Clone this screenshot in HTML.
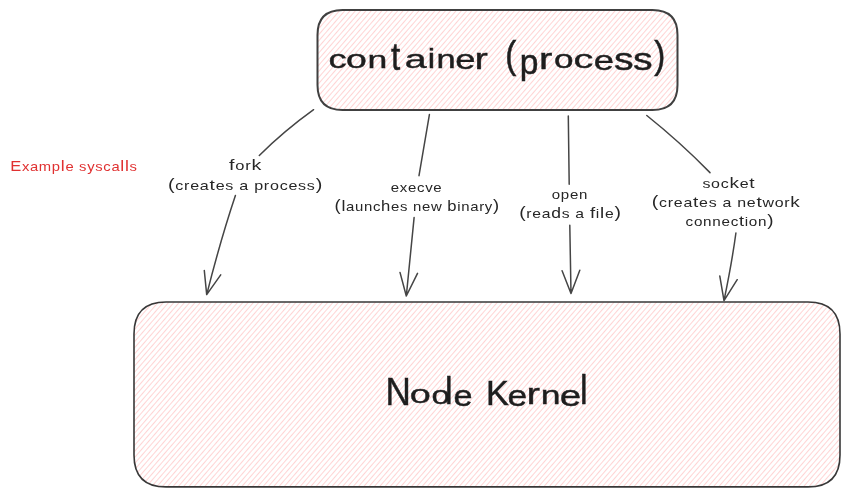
<!DOCTYPE html>
<html><head><meta charset="utf-8">
<style>
html,body{margin:0;padding:0;background:#fff;width:850px;height:497px;overflow:hidden}
svg{display:block;will-change:transform}
text{font-family:"Liberation Sans",sans-serif}
</style></head>
<body>
<svg width="850" height="497" viewBox="0 0 850 497">

<defs>
<pattern id="h1" patternUnits="userSpaceOnUse" width="4" height="4" patternTransform="translate(-1.6,0) rotate(-49)">
<rect x="0" y="0" width="4" height="1" fill="#ffc9c9" fill-opacity="0.8"/>
</pattern>
<pattern id="h2" patternUnits="userSpaceOnUse" width="4" height="4" patternTransform="translate(1.6,0) rotate(-49)">
<rect x="0" y="0" width="4" height="1" fill="#ffc9c9" fill-opacity="0.8"/>
</pattern>
</defs>
<path d="M342.5,9.9 L652.5,9.9 Q677.5,9.9 677.5,34.9 L677.5,85.0 Q677.5,110.0 652.5,110.0 L342.5,110.0 Q317.5,110.0 317.5,85.0 L317.5,34.9 Q317.5,9.9 342.5,9.9 Z" fill="url(#h1)" stroke="#404040" stroke-width="2"/>
<path d="M166,302 L808,302 Q840,302 840,334 L840,454.9 Q840,486.9 808,486.9 L166,486.9 Q134,486.9 134,454.9 L134,334 Q134,302 166,302 Z" fill="url(#h2)" stroke="#383838" stroke-width="1.6"/>
<g fill="none" stroke="#454545" stroke-width="1.5" stroke-linecap="round" stroke-linejoin="round">
<path d="M313.6,109.7 Q284,131 259.3,155.5"/>
<path d="M235.4,195.5 Q220.5,240 206.7,294.6 M204.3,270.5 L206.7,294.6 L220.7,274.9"/>
<path d="M429.4,114.6 L419,175.7"/>
<path d="M414.1,217.6 L406.3,296 M400,272.4 L406.3,296 L417.5,273.3"/>
<path d="M568.3,116.1 L569.2,184.3"/>
<path d="M569.8,225.2 L571,293.4 M562.1,270.8 L571,293.4 L579.8,270.3"/>
<path d="M646.8,115.5 Q680,142 710,172.6"/>
<path d="M735.9,233 Q732,262 724,300.6 M719.8,276.1 L724,300.6 L737.2,279.7"/>
</g>

<g id="title"><text font-size="100" fill="#1e1e1e" stroke="#1e1e1e" stroke-width="0.5" vector-effect="non-scaling-stroke" transform="matrix(0.3618 0 0 0.2665 328.46 68.44)">c</text>
<text font-size="100" fill="#1e1e1e" stroke="#1e1e1e" stroke-width="0.5" vector-effect="non-scaling-stroke" transform="matrix(0.3749 0 0 0.2574 346.03 68.45)">o</text>
<text font-size="100" fill="#1e1e1e" stroke="#1e1e1e" stroke-width="0.5" vector-effect="non-scaling-stroke" transform="matrix(0.3555 0 0 0.2435 367.44 68.20)">n</text>
<text font-size="100" fill="#1e1e1e" stroke="#1e1e1e" stroke-width="0.5" vector-effect="non-scaling-stroke" transform="matrix(0.3310 0 0 0.3913 390.97 70.39)">t</text>
<text font-size="100" fill="#1e1e1e" stroke="#1e1e1e" stroke-width="0.5" vector-effect="non-scaling-stroke" transform="matrix(0.3932 0 0 0.2665 404.83 68.44)">a</text>
<text font-size="100" fill="#1e1e1e" stroke="#1e1e1e" stroke-width="0.5" vector-effect="non-scaling-stroke" transform="matrix(0.3310 0 0 0.2774 427.78 68.20)">i</text>
<text font-size="100" fill="#1e1e1e" stroke="#1e1e1e" stroke-width="0.5" vector-effect="non-scaling-stroke" transform="matrix(0.3437 0 0 0.2527 436.42 68.20)">n</text>
<text font-size="100" fill="#1e1e1e" stroke="#1e1e1e" stroke-width="0.5" vector-effect="non-scaling-stroke" transform="matrix(0.3644 0 0 0.2756 455.35 69.43)">e</text>
<text font-size="100" fill="#1e1e1e" stroke="#1e1e1e" stroke-width="0.5" vector-effect="non-scaling-stroke" transform="matrix(0.3999 0 0 0.2899 474.39 69.20)">r</text>
<text font-size="100" fill="#1e1e1e" stroke="#1e1e1e" stroke-width="0.5" vector-effect="non-scaling-stroke" transform="matrix(0.3310 0 0 0.3789 505.31 67.96)">(</text>
<text font-size="100" fill="#1e1e1e" stroke="#1e1e1e" stroke-width="0.5" vector-effect="non-scaling-stroke" transform="matrix(0.3358 0 0 0.3583 519.64 73.86)">p</text>
<text font-size="100" fill="#1e1e1e" stroke="#1e1e1e" stroke-width="0.5" vector-effect="non-scaling-stroke" transform="matrix(0.3999 0 0 0.2899 538.89 69.20)">r</text>
<text font-size="100" fill="#1e1e1e" stroke="#1e1e1e" stroke-width="0.5" vector-effect="non-scaling-stroke" transform="matrix(0.3516 0 0 0.2665 554.12 68.44)">o</text>
<text font-size="100" fill="#1e1e1e" stroke="#1e1e1e" stroke-width="0.5" vector-effect="non-scaling-stroke" transform="matrix(0.3966 0 0 0.2665 573.62 68.44)">c</text>
<text font-size="100" fill="#1e1e1e" stroke="#1e1e1e" stroke-width="0.5" vector-effect="non-scaling-stroke" transform="matrix(0.3644 0 0 0.2847 593.85 69.92)">e</text>
<text font-size="100" fill="#1e1e1e" stroke="#1e1e1e" stroke-width="0.5" vector-effect="non-scaling-stroke" transform="matrix(0.3922 0 0 0.3130 614.01 69.89)">s</text>
<text font-size="100" fill="#1e1e1e" stroke="#1e1e1e" stroke-width="0.5" vector-effect="non-scaling-stroke" transform="matrix(0.3922 0 0 0.3130 633.11 69.89)">s</text>
<text font-size="100" fill="#1e1e1e" stroke="#1e1e1e" stroke-width="0.5" vector-effect="non-scaling-stroke" transform="matrix(0.3310 0 0 0.3789 654.27 67.96)">)</text></g>
<g id="node"><text font-size="100" fill="#1e1e1e" stroke="#1e1e1e" stroke-width="0.45" vector-effect="non-scaling-stroke" transform="matrix(0.3509 0 0 0.3866 385.62 404.70)">N</text>
<text font-size="100" fill="#1e1e1e" stroke="#1e1e1e" stroke-width="0.45" vector-effect="non-scaling-stroke" transform="matrix(0.3791 0 0 0.2555 409.81 403.45)">o</text>
<text font-size="100" fill="#1e1e1e" stroke="#1e1e1e" stroke-width="0.45" vector-effect="non-scaling-stroke" transform="matrix(0.3325 0 0 0.2501 431.40 403.56)">o</text>
<text font-size="100" fill="#1e1e1e" stroke="#1e1e1e" stroke-width="0.45" vector-effect="non-scaling-stroke" transform="matrix(0.3413 0 0 0.3837 445.10 403.80)">l</text>
<text font-size="100" fill="#1e1e1e" stroke="#1e1e1e" stroke-width="0.45" vector-effect="non-scaling-stroke" transform="matrix(0.3431 0 0 0.3030 453.54 405.50)">e</text>
<text font-size="100" fill="#1e1e1e" stroke="#1e1e1e" stroke-width="0.45" vector-effect="non-scaling-stroke" transform="matrix(0.3434 0 0 0.3503 485.88 404.70)">K</text>
<text font-size="100" fill="#1e1e1e" stroke="#1e1e1e" stroke-width="0.45" vector-effect="non-scaling-stroke" transform="matrix(0.3538 0 0 0.2939 507.40 405.51)">e</text>
<text font-size="100" fill="#1e1e1e" stroke="#1e1e1e" stroke-width="0.45" vector-effect="non-scaling-stroke" transform="matrix(0.4051 0 0 0.2899 526.40 404.20)">r</text>
<text font-size="100" fill="#1e1e1e" stroke="#1e1e1e" stroke-width="0.45" vector-effect="non-scaling-stroke" transform="matrix(0.3555 0 0 0.2602 540.84 403.70)">n</text>
<text font-size="100" fill="#1e1e1e" stroke="#1e1e1e" stroke-width="0.45" vector-effect="non-scaling-stroke" transform="matrix(0.3857 0 0 0.3030 559.66 405.50)">e</text>
<text font-size="100" fill="#1e1e1e" stroke="#1e1e1e" stroke-width="0.45" vector-effect="non-scaling-stroke" transform="matrix(0.3413 0 0 0.4085 580.10 404.20)">l</text></g>
<text id="ex" x="10.20" y="171.2" font-size="13" fill="#e03131" textLength="127.40" lengthAdjust="spacingAndGlyphs" letter-spacing="0.6"><tspan font-size="14.5">E</tspan>xamp<tspan font-size="15.5">l</tspan>e sysca<tspan font-size="15.5">l</tspan><tspan font-size="15.5">l</tspan>s</text>
<text id="fork" x="229.00" y="169.6" font-size="13" fill="#262626" textLength="33.00" lengthAdjust="spacingAndGlyphs" letter-spacing="0.6"><tspan font-size="15.5">f</tspan>or<tspan font-size="15.5">k</tspan></text>
<text id="forkd" x="168.00" y="190.4" font-size="13" fill="#262626" textLength="155.00" lengthAdjust="spacingAndGlyphs" letter-spacing="0.6"><tspan font-size="16">(</tspan>crea<tspan font-size="15.5">t</tspan>es a process<tspan font-size="16">)</tspan></text>
<text id="exe" x="390.80" y="191.8" font-size="13" fill="#262626" textLength="51.60" lengthAdjust="spacingAndGlyphs" letter-spacing="0.6">execve</text>
<text id="exed" x="334.60" y="210.7" font-size="13" fill="#262626" textLength="165.20" lengthAdjust="spacingAndGlyphs" letter-spacing="0.6"><tspan font-size="16">(</tspan><tspan font-size="15.5">l</tspan>aunc<tspan font-size="14.5">h</tspan>es new <tspan font-size="14.5">b</tspan>inary<tspan font-size="16">)</tspan></text>
<text id="open" x="551.80" y="199" font-size="13" fill="#262626" textLength="36.20" lengthAdjust="spacingAndGlyphs" letter-spacing="0.6">open</text>
<text id="opend" x="519.20" y="218.4" font-size="13" fill="#262626" textLength="102.40" lengthAdjust="spacingAndGlyphs" letter-spacing="0.6"><tspan font-size="16">(</tspan>rea<tspan font-size="14.5">d</tspan>s a <tspan font-size="15.5">f</tspan>i<tspan font-size="15.5">l</tspan>e<tspan font-size="16">)</tspan></text>
<text id="sock" x="702.40" y="187.5" font-size="13" fill="#262626" textLength="53.00" lengthAdjust="spacingAndGlyphs" letter-spacing="0.6">soc<tspan font-size="15.5">k</tspan>e<tspan font-size="15.5">t</tspan></text>
<text id="sockd1" x="651.80" y="206.9" font-size="13" fill="#262626" textLength="148.80" lengthAdjust="spacingAndGlyphs" letter-spacing="0.6"><tspan font-size="16">(</tspan>crea<tspan font-size="15.5">t</tspan>es a ne<tspan font-size="15.5">t</tspan>wor<tspan font-size="15.5">k</tspan></text>
<text id="sockd2" x="685.60" y="226.3" font-size="13" fill="#262626" textLength="88.60" lengthAdjust="spacingAndGlyphs" letter-spacing="0.6">connec<tspan font-size="15.5">t</tspan>ion<tspan font-size="16">)</tspan></text>
</svg>
</body></html>
